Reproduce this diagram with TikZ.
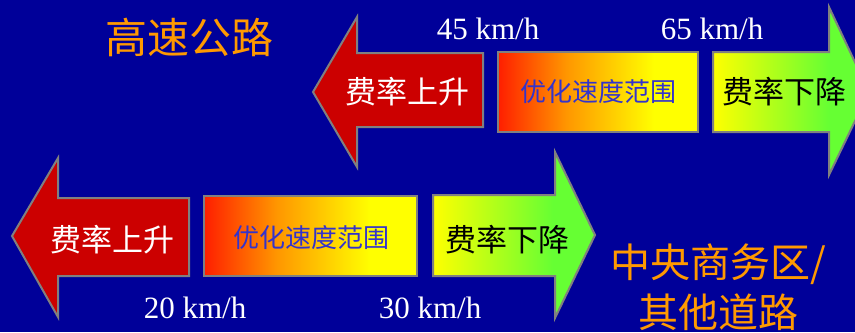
\documentclass[tikz,border=0pt]{standalone}
\usepackage{fontspec}
\setmainfont{Liberation Serif}
\newfontfamily\cjk{Noto Sans CJK SC}
\usepackage{xcolor}
\usepackage{tikz}

\definecolor{slideblue}{RGB}{0,0,153}
\definecolor{rateRed}{RGB}{204,0,0}
\definecolor{edgegray}{RGB}{128,128,128}
\definecolor{titleorange}{RGB}{255,153,0}
\definecolor{rangeblue}{RGB}{51,51,204}
\definecolor{shadeRed}{RGB}{255,30,0}
\definecolor{shadeOrange}{RGB}{255,150,0}
\definecolor{shadeYellow}{RGB}{255,255,0}
\definecolor{shadeGreen}{RGB}{102,255,51}

\pgfdeclarehorizontalshading{rangeshade}{100bp}{color(0bp)=(shadeRed); color(25bp)=(shadeRed); color(42bp)=(shadeOrange); color(64bp)=(shadeYellow); color(100bp)=(shadeYellow)}
\pgfdeclarehorizontalshading{dropshade}{100bp}{color(0bp)=(shadeYellow); color(25bp)=(shadeYellow); color(62bp)=(shadeGreen); color(100bp)=(shadeGreen)}

\begin{document}
\begin{tikzpicture}[x=0.75pt, y=-0.75pt,
    outline/.style={draw=edgegray, line width=1.5pt},
    speedtext/.style={text=white, font=\fontsize{23.25}{23.25}\selectfont, anchor=base},
    ratetext/.style={font=\cjk\fontsize{23.25}{23.25}\selectfont},
    rangetext/.style={text=rangeblue, font=\cjk\fontsize{19.5}{19.5}\selectfont},
    roadtitle/.style={text=titleorange, align=center}]
    \clip (0,0) rectangle (855,332);
    \fill[slideblue] (0,0) rectangle (855,332);

    % motorway
    \filldraw[outline, fill=rateRed] (313,92) -- (357,17) -- (357,53) -- (483,53) -- (483,127) -- (357,127) -- (357,167) -- cycle;
    \shadedraw[outline, shading=rangeshade] (498,52) rectangle (698,132);
    \shadedraw[outline, shading=dropshade] (713,52) -- (829,52) -- (829,7) -- (869,92) -- (829,175) -- (829,132) -- (713,132) -- cycle;
    \node[ratetext, text=white] (upA) at (407,92) {费率上升};
    \node[rangetext] (rangeA) at (598,92) {优化速度范围};
    \node[ratetext, text=black] (downA) at (784,92) {费率下降};
    \node[speedtext] (lowA) at (488,39) {45 km/h};
    \node[speedtext] (highA) at (712,39) {65 km/h};
    \node[roadtitle, font=\cjk\fontsize{31.5}{31.5}\selectfont] (road) at (189,37) {高速公路};

    % city centre
    \filldraw[outline, fill=rateRed] (12,236) -- (58,158) -- (58,198) -- (189,198) -- (189,276) -- (58,276) -- (58,317) -- cycle;
    \shadedraw[outline, shading=rangeshade] (204,196) rectangle (417,276);
    \shadedraw[outline, shading=dropshade] (433,195) -- (555,195) -- (555,152) -- (595,235) -- (555,318) -- (555,276) -- (433,276) -- cycle;
    \node[ratetext, text=white] (upB) at (112,240) {费率上升};
    \node[rangetext] (rangeB) at (311,238) {优化速度范围};
    \node[ratetext, text=black] (downB) at (507,240) {费率下降};
    \node[speedtext] (lowB) at (195,318) {20 km/h};
    \node[speedtext] (highB) at (430,318) {30 km/h};
    \node[roadtitle, font=\cjk\fontsize{30}{37.5}\selectfont] (city) at (718,287) {中央商务区/\\其他道路};
\end{tikzpicture}
\end{document}
